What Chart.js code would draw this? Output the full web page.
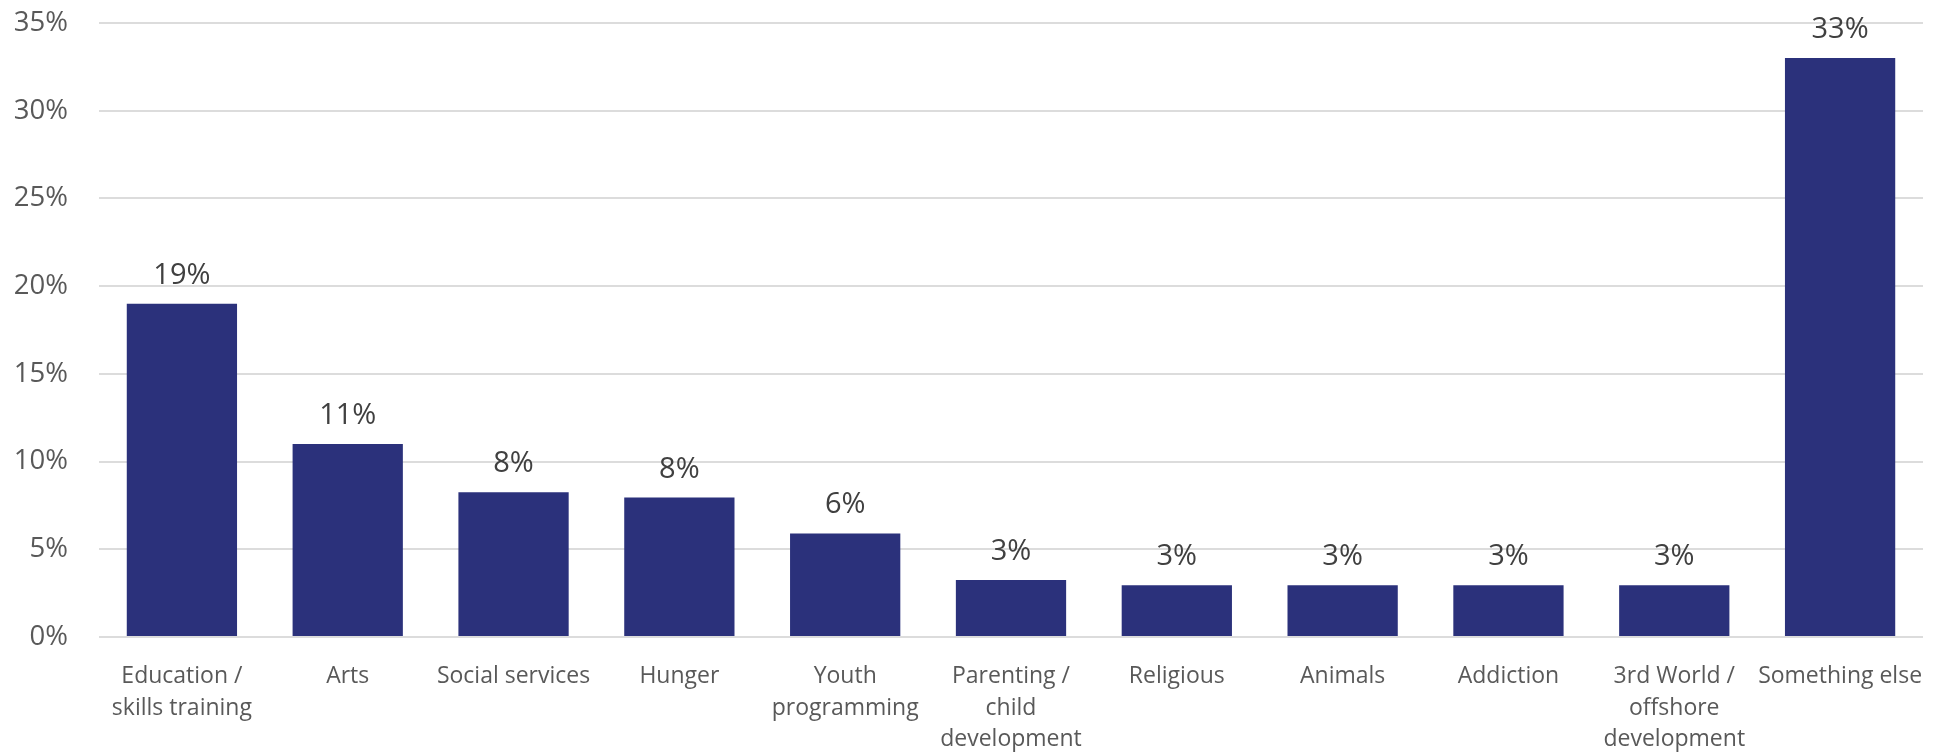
<!DOCTYPE html>
<html>
<head>
<meta charset="utf-8">
<script src="https://cdn.jsdelivr.net/npm/chart.js@4"></script>
<style>
  body { margin: 0; background: #fff; }
</style>
</head>
<body>
<canvas id="myChart" width="1952" height="754"></canvas>
<script>
const categories = [
    ['Education /', 'skills training'],
    'Arts',
    'Social services',
    'Hunger',
    ['Youth', 'programming'],
    ['Parenting /', 'child', 'development'],
    'Religious',
    'Animals',
    'Addiction',
    ['3rd World /', 'offshore', 'development'],
    'Something else',
]

// share of respondents, in percent
const shares = [19, 11, 8.25, 7.95, 5.9, 3.25, 2.95, 2.95, 2.95, 2.95, 33]

const yTicks = [0, 5, 10, 15, 20, 25, 30, 35]

const fontFamily = '"Open Sans", "Noto Sans", sans-serif'

// writes the rounded value above each bar
const valueLabels = {
    id: 'valueLabels',
    afterDatasetsDraw(chart) {
        const ctx = chart.ctx
        const meta = chart.getDatasetMeta(0)
        ctx.save()
        ctx.font = '29px ' + fontFamily
        ctx.fillStyle = '#404040'
        ctx.textAlign = 'center'
        ctx.textBaseline = 'alphabetic'
        meta.data.forEach((bar, i) => {
            ctx.fillText(Math.round(shares[i]) + '%', bar.x, bar.y - 20)
        })
        ctx.restore()
    }
}

const data = {
    labels: categories,
    datasets: [{
        data: shares,
        backgroundColor: '#2B317B',
        borderWidth: 0,
        categoryPercentage: 1,
        barPercentage: 0.665,
    }]
}

const config = {
    type: 'bar',
    data: data,
    plugins: [valueLabels],
    options: {
        responsive: false,
        animation: false,
        layout: {
            padding: { top: 23, right: 29, left: 0, bottom: 0 }
        },
        plugins: {
            legend: { display: false },
            tooltip: { enabled: false },
        },
        scales: {
            x: {
                grid: { display: false },
                border: { display: false },
                ticks: {
                    autoSkip: false,
                    maxRotation: 0,
                    padding: 15,
                    color: '#595959',
                    font: { family: fontFamily, size: 23, lineHeight: 1.39 },
                },
                afterFit: (scale) => {
                    scale.height = 117
                    scale.paddingLeft = 0
                    scale.paddingRight = 0
                },
            },
            y: {
                min: 0,
                max: 35,
                afterBuildTicks: (scale) => {
                    scale.ticks = yTicks.map(v => ({ value: v }))
                },
                grid: {
                    color: '#dcdcdc',
                    lineWidth: 2,
                    drawTicks: false,
                },
                border: { display: false },
                ticks: {
                    padding: 31,
                    color: '#595959',
                    font: { family: fontFamily, size: 27.5 },
                    callback: (v) => v + '%',
                },
                afterFit: (scale) => {
                    scale.width = 99
                    scale.paddingTop = 0
                    scale.paddingBottom = 0
                },
            }
        }
    }
}

const myChart = new Chart(
    document.getElementById('myChart'),
    config
)
</script>
</body>
</html>
